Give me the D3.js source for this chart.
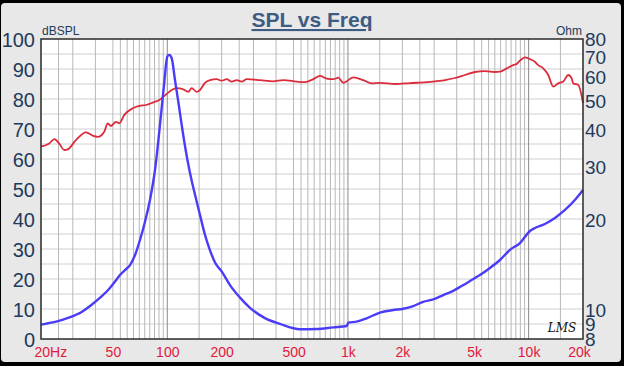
<!DOCTYPE html>
<html><head><meta charset="utf-8">
<script src="https://cdn.jsdelivr.net/npm/d3@7"></script>
<style>
html,body{margin:0;padding:0;background:#000;}
svg{display:block;}
text{font-family:"Liberation Sans",Arial,sans-serif;}
</style></head>
<body><svg id="c" width="624" height="366"></svg>
<script>
// ---- data ----
const splFreq = [20,22.2,23.7,25.2,26.9,28.1,31.2,35.5,38.6,41.2,44.8,46.8,48.8,52,54.3,57.8,64.4,70,76.2,83,90.3,99.3,105.8,112.7,122.6,130.7,136.5,145.5,151.8,161.7,172.4,187.7,200,213.3,227.3,242.3,258.1,275.1,325.8,386.1,438.5,520.2,578,642.7,700,762.3,829.6,884.7,943,1070,1215,1352,1503,1820,2204,2844,3445,3911,4438,5046,5730,6503,6937,7556,8225,8585,8957,9537,10160,10834,11302,12051,12842,13687,14585,15545,16568,17303,17665,18830,20000];
const splDb = [64.1,65.2,66.6,65.2,63.0,63.2,66.3,68.9,67.8,67.4,69.1,71.9,71.0,72.4,71.9,74.7,76.9,77.7,78.0,78.8,79.7,81.7,83.0,83.6,83.2,82.4,83.6,82.4,83.0,85.4,86.3,86.6,86.1,86.6,85.8,86.3,85.8,86.6,86.3,85.9,86.3,85.8,85.6,86.6,87.7,86.8,86.6,87.1,85.4,87.2,86.3,85.2,85.4,85.0,85.3,85.7,86.3,87.0,88.0,89.0,89.3,89.0,89.1,90.2,91.3,91.7,92.8,93.9,93.3,92.4,91.3,90.2,88.0,84.1,85.2,85.8,88.0,86.9,85.2,84.7,78.7];
const impFreq = [20,21.9,24.8,28.2,33.4,38,43.1,48,52.2,54.7,58.5,62.2,66.3,70.6,75.2,80.2,85.5,91.1,95.9,100,102.6,105.8,110.3,115.8,122.1,129.3,136.2,142.4,151.8,161.7,172.4,183.7,200.8,222.3,252.6,287,347.2,420.3,542.3,671.5,829.6,984,1004,1117,1269,1503,1781,2023,2298,2610,2967,3369,3826,4131,4733,5376,6107,6937,7880,8957,10170,10834,12300,13983,15886,18034,20000];
const impOhm = [8.93,9.03,9.17,9.41,9.83,10.39,11.07,11.81,12.59,13.07,13.6,14.11,15.24,17.1,19.64,23.25,29.27,41.35,56.2,69.9,70.8,69.0,58.4,48.2,38.8,31.6,27.1,24.2,20.7,17.8,15.8,14.4,13.4,12.1,10.99,10.16,9.39,8.98,8.62,8.64,8.75,8.84,9.07,9.14,9.38,9.80,9.99,10.09,10.3,10.64,10.84,11.21,11.58,11.89,12.48,13.07,13.8,14.67,15.85,16.71,18.33,18.76,19.34,20.25,21.54,23.25,25.1];
const dbTicks = [0,10,20,30,40,50,60,70,80,90,100];
const ohmTicks = [8,9,10,20,30,40,50,60,70,80];
const freqTicks = [20,50,100,200,500,1000,2000,5000,10000,20000];
const freqLabels = ["20Hz","50","100","200","500","1k","2k","5k","10k","20k"];
const gridMult = [1,1.5,2,2.5,3,4,5,5.5,6,6.5,7,7.5,8,8.5,9,9.5];
const title = "SPL vs Freq";

// ---- layout ----
const L=41,R=583,T=39,B=339;
const svg=d3.select("#c");
svg.append("rect").attr("x",1).attr("y",3).attr("width",620).attr("height",359).attr("rx",4).attr("fill","#e8e8e8");

const x=d3.scaleLog().domain([20,20000]).range([L,R]);
const yL=d3.scaleLinear().domain([0,100]).range([B,T]);
const yR=d3.scaleLog().domain([8,80]).range([B,T]);

svg.append("rect").attr("x",L).attr("y",T).attr("width",R-L).attr("height",B-T).attr("fill","#fff");

// grid
const g=svg.append("g");
const hLines=d3.range(5,100,5);
g.selectAll("line.h").data(hLines).join("line")
  .attr("x1",L).attr("x2",R).attr("y1",d=>yL(d)).attr("y2",d=>yL(d))
  .attr("stroke","#d0d0d0").attr("stroke-width",1);
const vLines=[];
[10,100,1000,10000].forEach(dec=>gridMult.forEach(m=>{const f=dec*m; if(f>20&&f<20000) vLines.push(f);}));
g.selectAll("line.v").data(vLines).join("line")
  .attr("x1",d=>x(d)).attr("x2",d=>x(d)).attr("y1",T).attr("y2",B)
  .attr("stroke",d=>([100,1000,10000].includes(d)?"#8a8a8a":"#b8b8b8")).attr("stroke-width",1);

// curves
const lineSpl=d3.line().x((d,i)=>x(splFreq[i])).y(d=>yL(d)).curve(d3.curveMonotoneX);
svg.append("path").attr("d",lineSpl(splDb)).attr("fill","none").attr("stroke","#dc2b3c").attr("stroke-width",1.8);
const lineImp=d3.line().x((d,i)=>x(impFreq[i])).y(d=>yR(d)).curve(d3.curveMonotoneX);
svg.append("path").attr("d",lineImp(impOhm)).attr("fill","none").attr("stroke","#4b3cf8").attr("stroke-width",2.4);

// frame
svg.append("rect").attr("x",L).attr("y",T).attr("width",R-L).attr("height",B-T).attr("fill","none").attr("stroke","#2a2a2a").attr("stroke-width",1.5);

// axes
const axL=svg.append("g").attr("transform",`translate(${L-5},0)`)
  .call(d3.axisLeft(yL).tickValues(dbTicks).tickSize(0).tickPadding(1).tickFormat(d3.format("d")));
axL.select(".domain").remove();
axL.selectAll("text").attr("fill","#1f3a5c").style("font-size","20px").attr("dy","0.36em");

const axR=svg.append("g").attr("transform",`translate(${R+2},0)`)
  .call(d3.axisRight(yR).tickValues(ohmTicks).tickSize(0).tickPadding(0).tickFormat(d3.format("d")));
axR.select(".domain").remove();
axR.selectAll("text").attr("fill","#1f3a5c").style("font-size","19px").attr("dy","0.36em");

const axB=svg.append("g").attr("transform",`translate(0,${B})`)
  .call(d3.axisBottom(x).tickValues(freqTicks).tickSize(0).tickPadding(0).tickFormat((d,i)=>freqLabels[i]));
axB.select(".domain").remove();
axB.selectAll("text").attr("fill","#e3173d").style("font-size","14px").attr("dy","1.25em")
  .attr("text-anchor",(d,i)=>i===0?"start":"middle")
  .attr("dx",(d,i)=>i===0?-7:(i===freqTicks.length-1?-4:0));

// labels
svg.append("text").attr("x",42).attr("y",35).text("dBSPL").attr("fill","#1f3a5c").style("font-size","12px");
svg.append("text").attr("x",582).attr("y",35).attr("text-anchor","end").text("Ohm").attr("fill","#1f3a5c").style("font-size","12px");
svg.append("text").attr("x",312).attr("y",27).attr("text-anchor","middle").text(title)
  .attr("fill","#3d5c84").style("font-size","21px").style("font-weight","bold").style("text-decoration","underline");
svg.append("text").attr("x",562).attr("y",332).attr("text-anchor","middle").text("LMS")
  .attr("fill","#111").style("font-family","DejaVu Serif").style("font-style","italic").style("font-size","12px");
</script></body></html>
